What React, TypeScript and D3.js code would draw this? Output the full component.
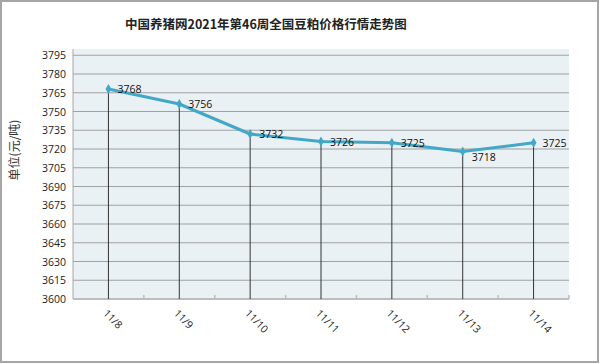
import React from 'react';
import * as d3 from 'd3';

const dates = ['11/8', '11/9', '11/10', '11/11', '11/12', '11/13', '11/14'];
const prices = [3768, 3756, 3732, 3726, 3725, 3718, 3725];
const yTicks = d3.range(3600, 3800, 15);

export default function App() {
  const width = 600, height = 364;
  const left = 73, right = 569, top = 49, bottom = 299;

  const x = d3.scaleBand().domain(dates).range([left, right]).padding(0);
  const y = d3.scaleLinear().domain([3600, 3800]).range([bottom, top]);
  const cx = (d: string) => (x(d) as number) + x.bandwidth() / 2;

  const line = d3.line<number>()
    .x((_, i) => cx(dates[i]))
    .y(v => y(v));

  const diamond = d3.symbol().type(d3.symbolDiamond).size(30)();
  const boundaries = dates.map(d => (x(d) as number) + x.bandwidth()).slice(0, -1).concat([right]);

  return (
    <svg width={width} height={height} style={{ position: 'absolute', left: 0, top: 0 }}
      fontFamily="'Noto Sans CJK SC', 'Open Sans', sans-serif">
      <rect x={0} y={0} width={width} height={height} fill="#fff" />
      <rect x={1} y={1} width={597} height={361} fill="none" stroke="#a6a6a6" strokeWidth={2} />

      <text x={266} y={29} textAnchor="middle" fontSize={12.5} fontWeight="bold" fill="#222">
        中国养猪网2021年第46周全国豆粕价格行情走势图
      </text>

      <rect x={left} y={top} width={right - left} height={bottom - top} fill="#eaf1f5" />

      {yTicks.slice(1).map(t => (
        <line key={t} x1={left} x2={right} y1={y(t)} y2={y(t)} stroke="#a0a0a0" strokeWidth={1.2} />
      ))}
      <line x1={left} x2={left} y1={top} y2={bottom} stroke="#a6a6a6" strokeWidth={1} />
      <line x1={left} x2={right} y1={bottom} y2={bottom} stroke="#bdbdbd" strokeWidth={2} />

      {boundaries.map((b, i) => (
        <line key={i} x1={b} x2={b} y1={bottom} y2={bottom - 4} stroke="#bdbdbd" strokeWidth={1.5} />
      ))}

      {yTicks.map(t => (
        <text key={t} x={66} y={y(t) + 4} textAnchor="end" fontSize={10.5} fontFamily="'Open Sans', sans-serif" fill="#222">
          {t}
        </text>
      ))}

      <text transform={`translate(19,150) rotate(-90)`} textAnchor="middle" fontSize={12} fill="#333">
        单位(元/吨)
      </text>

      {prices.map((v, i) => (
        <line key={i} x1={cx(dates[i])} x2={cx(dates[i])} y1={y(v)} y2={bottom} stroke="#333" strokeWidth={1} />
      ))}

      <path d={line(prices) as string} fill="none" stroke="#43a8c6" strokeWidth={3} strokeLinejoin="round" />
      {prices.map((v, i) => (
        <path key={i} d={diamond as string} transform={`translate(${cx(dates[i])},${y(v)})`} fill="#43a8c6" />
      ))}

      {prices.map((v, i) => (
        <text key={i} x={cx(dates[i]) + 9} y={y(v) + (i === 5 ? 9 : 4)} fontSize={10.5}
          fontFamily="'Open Sans', sans-serif" fill="#111">
          {v}
        </text>
      ))}

      {dates.map(d => (
        <text key={d} transform={`translate(${cx(d) - 6},${314}) rotate(45)`} fontSize={10.5}
          fontFamily="'Open Sans', sans-serif" fill="#222">
          {d}
        </text>
      ))}
    </svg>
  );
}
